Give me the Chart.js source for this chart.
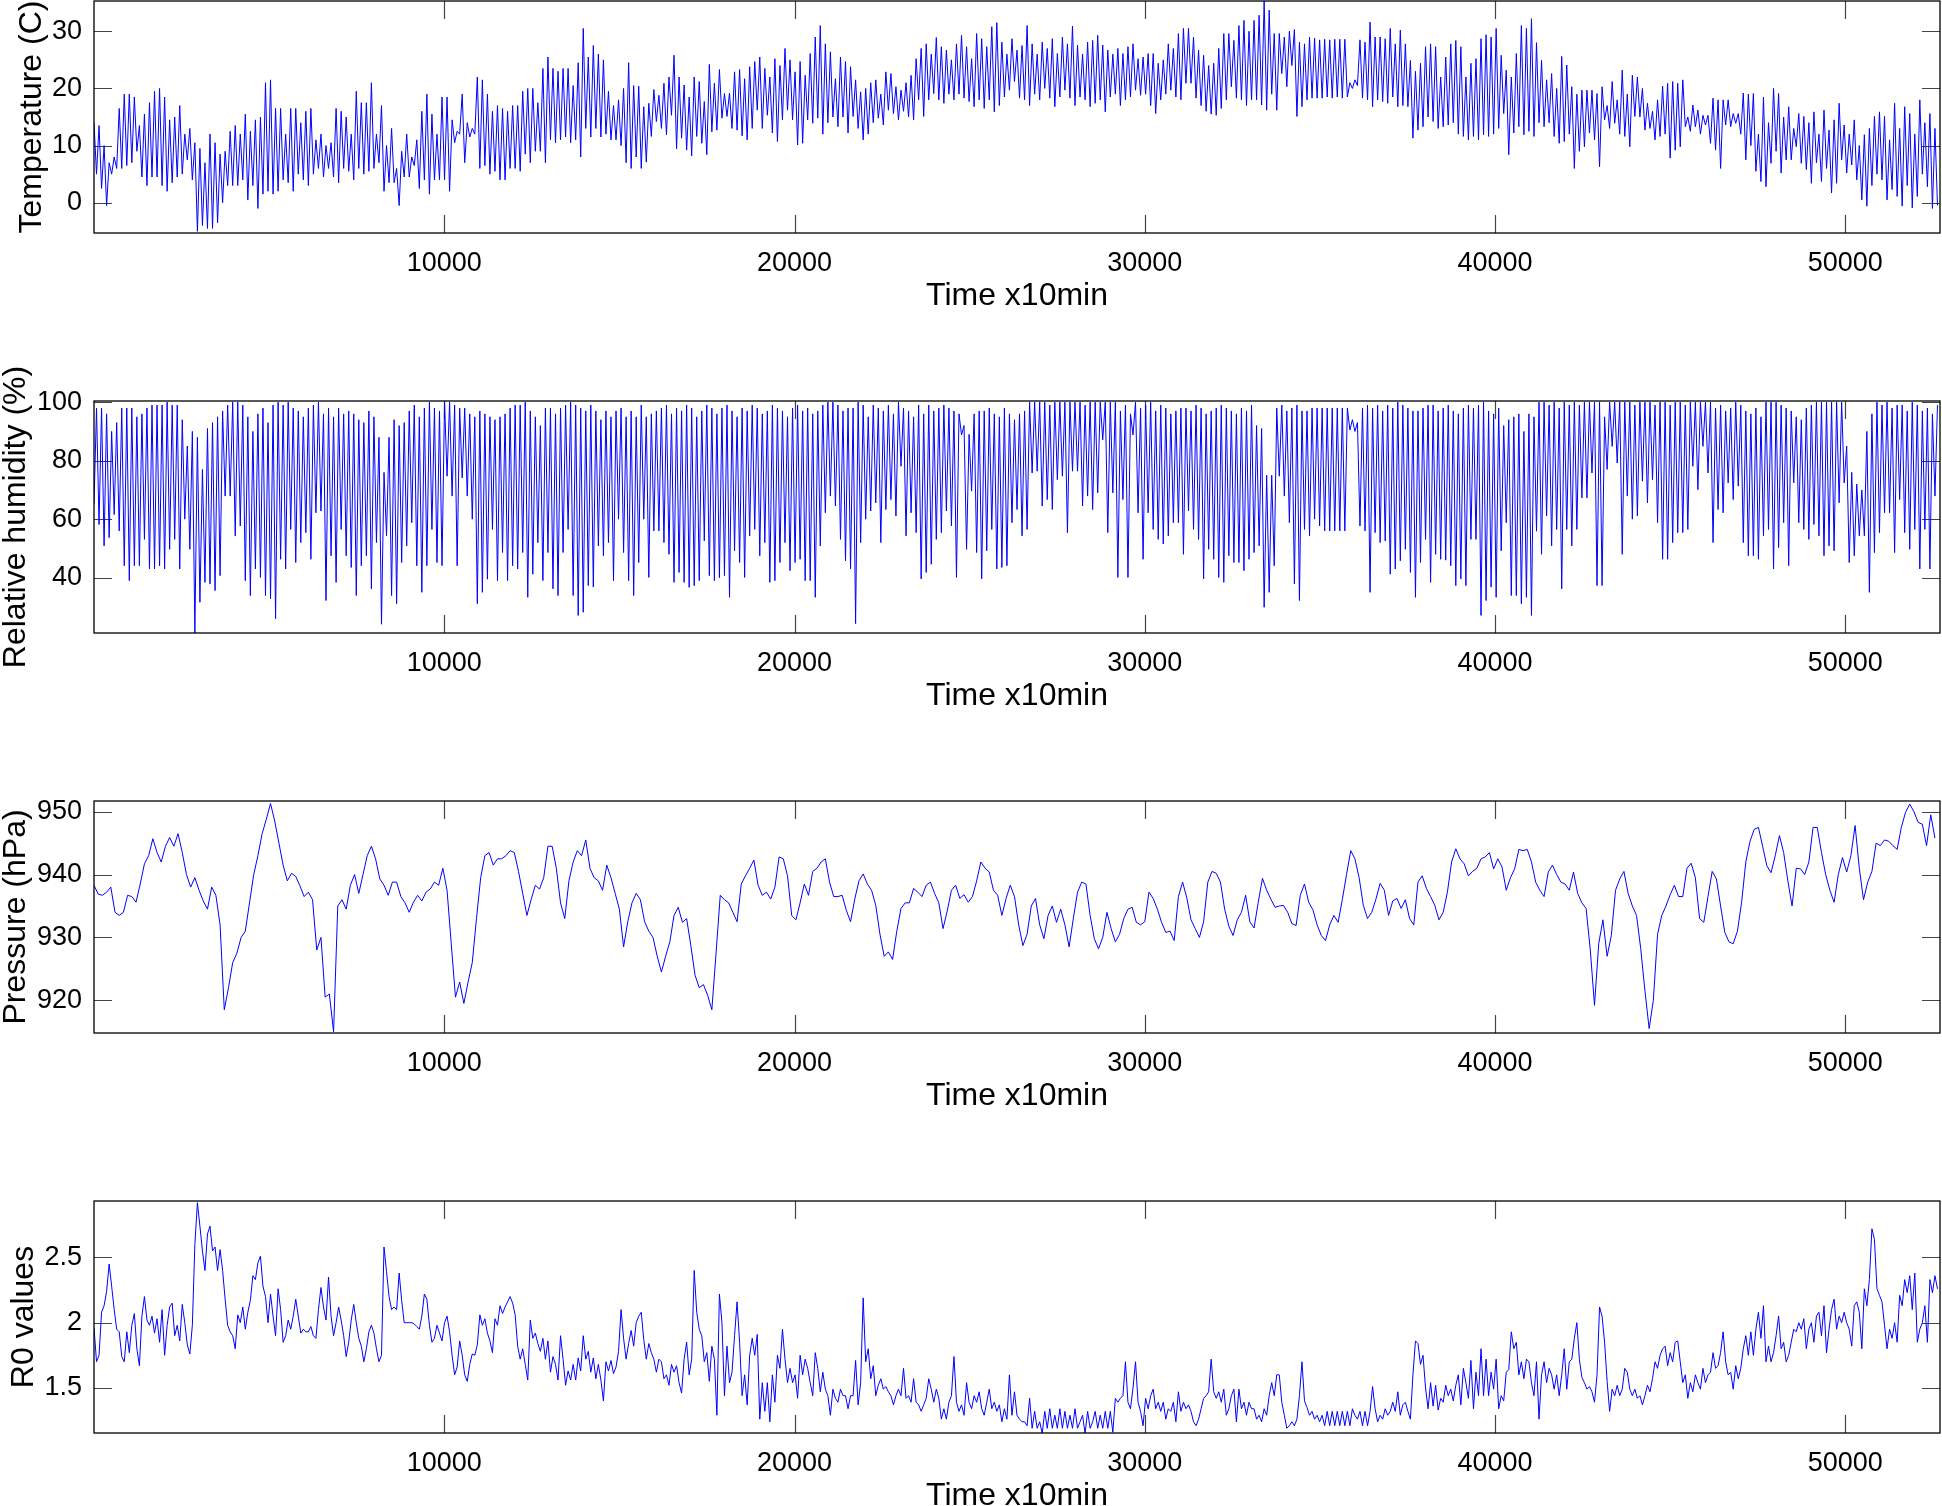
<!DOCTYPE html>
<html><head><meta charset="utf-8">
<script src="https://cdn.jsdelivr.net/npm/chart.js@4.4.0/dist/chart.umd.min.js"></script>
<style>
html,body{margin:0;padding:0;background:#fff;overflow:hidden;width:1942px;height:1506px;}
canvas{position:absolute;left:0;}
</style></head><body>
<canvas id="c0" width="1942" height="399" style="top:-39px"></canvas>
<canvas id="c1" width="1942" height="399" style="top:361px"></canvas>
<canvas id="c2" width="1942" height="399" style="top:761px"></canvas>
<canvas id="c3" width="1942" height="399" style="top:1161px"></canvas>
<script>
// ---- data (time axis in samples of 10 min) ----
const xTicks = [10000, 20000, 30000, 40000, 50000];
const xTitle = 'Time x10min';
const xMax = 52704;

const tempTicks = [0, 10, 20, 30];
const humTicks = [40, 60, 80, 100];
const presTicks = [920, 930, 940, 950];
const r0Ticks = [1.5, 2, 2.5];

// temperature, two readings per day (afternoon max, night min), step 72 samples
const temperature = [
14,5,13.5,2.5,10,-0.5,7,5,8,6,16.5,6,19,6.5,19,7,18.5,9,
13.5,4.5,15.5,3,17.5,4.5,19.5,4.5,20,3,18.5,2,14.5,3.5,15,4.5,17,5,12,7.5,13,4,
10.5,-5,9.5,-4,7,-4.5,12,-4.5,10.5,-3.5,8.5,0,9,3,
12.5,3,13.5,3,12,4,15.5,0.5,12.5,3,14.5,-1,15,1.5,21,2,21.5,1.5,16.5,2,
16.5,4,12,3.5,16.5,2,16.5,5,14,4,16,3,16.5,5,11,6,12,4.5,10,6,10.5,4.5,
16.5,3.5,16,6,15,5.5,12,4,19.5,6,17.5,5,17.5,5.5,21,6,12,7,17,2,10,3.5,13,3.5,6,-0.5,9,4.5,
12,4.5,8,6.5,11,2.5,16,4,19,1.5,15.5,4,12,4,18.5,4,18.5,2,
14.5,10.5,12.5,12,19,7,14,11.5,13,12,22,6,21.5,6.5,19,5,16,5.5,17,4,16.5,4,16,6,17,6,
17,5.5,19.5,8.5,20,7,20,9,17.5,9,23.5,7,25.5,11,23.5,10.5,23,11,23.5,11.5,23.5,10.5,20.5,11,24.5,8,30.5,13,
25.5,11.5,27.5,13,26,11.5,25,12,19.5,11,17,11,18,10,20,7,24.5,6,20.5,8,
20.4,6,16.8,7.1,17.4,11.6,19.8,14.2,18.8,13,20.9,11.9,22,15.3,25.8,9.4,22,11.3,20.6,9.2,18.5,8.2,22,11.6,21.2,10.4,17.7,8.4,24.2,12.4,20.9,12.7,23.3,14.8,19.1,15.1,19.2,13,22.9,12.7,23.3,11.7,21.7,11,23.8,13,24.7,16.2,25.5,13,
23.5,15.3,22,12.2,25.2,10.7,24,14.5,27,16.2,25,14.5,
22.9,10.1,24.7,10.4,22.3,14.5,26.1,13.9,29,14.8,31,12,27.8,14,26.4,15,
21.7,13.3,25.5,15,24.7,12.2,23.8,15.1,21.5,13,19.4,11,20,12,21,14,
21.5,14.8,19,13.6,22.9,16.2,22.6,15.6,20.3,14.5,19.7,16,21,15,22.3,14.5,
25.2,18,27,15.1,27.8,18,26,19.1,28.9,18,27.3,17.4,26.7,19,25,18,27.8,19,
29.3,18.3,27.3,17.7,25.2,16.8,29.6,18,28.7,16.5,27.3,18,30.8,15.9,31.5,17,
28.1,18.5,26,19.7,28.7,21.2,26.7,18.3,27.5,18,31,17,27.8,19,26,18,
28.1,20,27,18.3,28.7,16.8,26.1,18.5,29,19.7,27.8,18.3,30.9,17,27.6,18.5,26,18,
28.1,16.8,28.4,17.4,29.3,18,27.6,15.9,26.7,18.5,26,19,27,17,26.1,18,
27.3,18.5,27.8,19.7,25.2,18.8,25.5,19,26.1,17,26.1,15.6,24.4,18,25,19,
27.8,19.7,27,18.5,29.6,18,30.5,20.9,30.5,20.9,29,18.3,26.7,17,25.8,16,24,15.5,
24.4,15.3,27,16.5,29.6,18,29.6,20.3,28.4,18.3,31,18,31.9,17,30,18,
31.9,18,32.8,17.1,35.3,16.2,33.7,19,29.6,16.2,
29.6,22.6,29,20.3,30,24,30.3,15.1,28.1,16.8,27.8,18,29,18.3,28.8,18.3,
28.5,18.3,28.6,18.5,28.5,18.3,28.6,18.5,28.6,18.3,28.6,18.5,21,20,21.5,20.5,
28.5,18.3,28.1,18,31.6,16.8,29,18,29,17.7,28.7,17.4,30.5,18.5,27.8,16.8,30.2,17,27.8,16.8,
24.9,11.3,23,12.7,24.4,13.3,27.3,15,27.8,14.2,27.3,13,22,13.3,25.5,13.6,27.8,14,
28.4,12,27.3,11.6,22,11,24.4,11.6,25.2,11,28.7,11.9,29.4,11.6,29,12,30.5,13,
25.8,15.6,23.2,8.4,22,12.2,26.1,13.3,31,11.9,30.5,12.5,32.2,11.6,28,14,
24.9,13.3,21.5,14,22.6,11.6,20,10.4,25.6,10.7,24.1,12,20.3,6,19,9,
19.7,9.8,19.7,12.2,19.7,11,19.1,6.3,20.3,14.5,17,13,21.2,13.9,18,12,23.2,11.6,
19,9.8,22.3,15.1,22,15,20,12.7,17.4,13,16,11,18,11.6,20.4,12,
20.9,7.8,21.2,9.2,20.9,9.8,21.5,13.3,15,12.5,17.1,13.3,16.2,12,15.3,13.6,
15.3,10.4,18.3,9.2,18,6,18,13.6,18,13.3,15.6,13.9,15.6,12,19.2,7.5,19,10,
19.1,5.5,12,3.7,18.5,2.8,14,6.9,20,9,19.1,5.2,15,7.5,16.8,7.5,
13,9.8,15.6,6.9,15.1,5.8,14,3.4,15.9,7,12,3.7,16.2,6,12.7,1.7,
14.5,3.4,17.4,7.5,13.6,5.2,12,6.6,14.5,4,10,0.5,11.9,-0.6,13,3,15.1,5,
15.9,4,15.1,0.5,11,2.3,17.4,1.1,13,-0.6,16.8,3,15.6,-0.9,12,1.1,18,5,14,2.8,15.6,-1,13,-0.5
];

// relative humidity, two readings per day (afternoon min, night max), step 72 samples
const humidity = [
65,98,58.2,98,50.9,96,53.7,90,61.6,93,56,98,44.1,98,39,98,44.1,95,44.1,96,
53.1,98,43,99,43,99,44.1,99,43,100,49.7,99,53.1,99,43,94,60,85,49.7,90,
21.1,88,31.6,77,38.4,91,37.9,93,35.6,95,40.7,97,67.9,99,67.9,100,54.3,100,57.7,99,
39,95,33.9,90,43,96,40.1,98,33.9,93,32.8,99,26,100,46.3,99,43,100,56.5,98,
45.2,97,52,95,55.4,98,46.3,99,62.2,100,62.8,96,32.2,98,47.5,95,38.4,98,56.5,96,
47.5,97,43.5,96,33.9,94,44.1,93,47.5,97,36.2,95,52,88,24.1,76,54.3,88,33.9,94,
31.1,92,45.2,93,50.9,97,58.8,99,44.1,95,35,98,44.1,100,56.5,98,45.2,97,44.1,100,
74.7,100,67.9,99,44.1,98,74.1,98,67.9,96,60,95,31.1,97,35,96,39.5,95,56.5,94,
39,95,48.6,96,39,98,44.1,99,43,99,48.6,100,33.3,97,41.2,95,52,92,39,98,
48.6,98,36.2,96,33.9,98,48.6,99,56.5,100,33.9,99,27.1,98,28.2,97,37.3,99,36.8,97,
50.9,94,47.5,97,52,95,39,97,60,98,48.6,95,39,97,33.9,95,45.2,99,60,95,40.1,96,
56,97,56,98,52,99,48,96,38.4,98,41.8,97,38.4,99,36.7,98,37.3,95,39,97,
52.6,99,40.7,98,39,96,40,98,40.7,99,33.3,97,49.2,95,45.2,98,40.1,97,54.3,99,
56.5,98,47.5,96,52,97,38.4,99,39,98,45.2,97,52,95,42.4,98,45.2,99,46.3,97,
39,98,39,96,33.3,97,50.9,99,62.2,100,67.9,100,64.5,99,53.1,97,45.8,98,43,98,
24.3,100,52,99,60,95,62.8,99,65.6,98,52,97,63.3,99,66.7,96,61.1,100,78.1,98,
54.3,97,62.2,95,55.4,99,39.6,96,41.8,99,44.6,97,53.1,98,55.4,99,62.8,98,57.7,97,
40.1,96,88.8,92,49.7,89,69.6,96,48.6,97,39.6,97,49.2,98,56.5,96,43,95,43.5,98,
44.1,96,58.8,94,63.3,96,54.3,97,56.5,100,75.8,100,76.4,100,64.5,100,66.7,99,63.3,100,
73.5,100,74.7,100,55.4,100,76.4,100,76.4,100,64.5,99,67.9,100,63.3,100,69,100,87.1,100,
55.4,100,69,100,40.1,97,66.7,99,40.1,96,88.8,100,62.2,98,46.3,99,62.2,100,56.5,97,
53.1,99,51.5,98,54.3,96,58.8,97,58.8,98,48,98,62.8,97,56.5,99,53.1,98,39.6,96,
49.7,97,46.3,98,40.1,99,38.4,98,47.5,97,45.2,96,45.2,98,42.4,97,46.3,99,48.6,92,
50.9,91,29.9,75,35,75,44.1,98,74.7,99,67.9,97,58.8,98,
37.9,99,32.2,97,56.5,97,54.3,98,60,98,57.7,98,56,98,56,98,56,98,56,98,
56,98,90.5,94,90,93,57.7,98,56,99,35,98,55.4,99,52,97,52.6,99,41.2,98,
43,100,45.8,99,49.7,98,41.8,97,33.3,97,45.2,98,53.1,99,38.4,99,48,97,46.3,98,
46,99,44.1,97,37.3,96,39.6,98,37.3,99,53.1,98,53.1,99,27.1,100,32.2,97,36.8,96,
33.3,98,49.2,92,58.8,94,33.9,95,33.9,96,31.1,90,33.3,96,27.1,95,55.9,100,48,100,
61.1,99,50.9,100,56.5,98,36.2,100,56.5,99,50.9,100,56.5,99,67.3,100,67.3,100,75.8,100,
37.3,100,37.3,95,77,100,84.9,100,79.2,100,48,100,67.9,100,60,99,61.1,100,73,100,
65.6,100,73.5,99,58.8,100,46.3,100,46.3,99,52,100,55.4,100,55.4,99,56.5,100,78.1,100,
70.1,100,84.9,100,75.8,100,52,98,63.3,99,62.2,97,72.4,98,66.7,100,71.3,99,52,97,
47.5,96,47.5,98,46.3,95,54.3,100,56.5,100,43,100,50.3,99,58.8,98,44.1,97,72.4,95,
58.8,94,56.5,98,53.1,99,58.2,100,54.3,100,47.5,100,50.9,100,49.2,100,65.6,100,72.4,85,
45.2,76,47.5,72,54.3,70,54.3,90,35,96,48.6,100,55.4,99,62.2,100,62.2,98,48.6,99,
66.7,99,55.4,97,49.7,100,56.5,99,43,97,56.5,98,43,96,67.9,99
];

// pressure (hPa), step 120 samples
const pressure = [
938.3,936.9,936.7,937.2,938,934,933.5,934,936.7,936.5,
935.6,938.5,941.7,943,945.7,943.5,942,944.5,945.9,944.5,
946.5,943.5,940,938,939.5,937.5,935.8,934.5,938,936.7,
932,918.5,922,926,927.5,930,931,935.5,940,943,
946.5,948.8,951.3,948.5,945,941.5,939,940.2,939.7,938.2,
936.5,937.2,936,928,930,920.5,921,915,935,936,
934.5,938.3,940,937,940,943,944.5,942.5,939.3,938.3,
936.7,938.8,938.8,936.5,935.5,934,935.6,936.7,935.8,937.2,
937.7,938.8,938.3,941,937.5,929,920.5,922.9,919.5,922.9,
926,933,939.5,943,943.5,941.5,942.5,942.5,943,943.8,
943.5,940.5,937,933.5,936,938.3,937.7,939.5,944.5,944.5,
941,935.5,933,939,942,943.8,943,945.5,941,939.5,
939,937.5,941.5,939.5,937,934.5,928.5,932.5,935.5,937,
936,932.5,931,930,927,
924.5,927,929.3,933.5,934.8,932.4,933,928.7,924,922,
922.5,920.8,918.5,927.5,936.7,936,935.5,934,932.5,938.5,
939.8,941,942.3,938.3,936.7,937.2,936.1,938,942.8,942.5,
939.8,933.5,932.8,935.5,938.5,936.7,940.5,941,942,942.5,
938.8,936.5,936.5,936.7,934.3,932.5,936.1,939,940.1,938.5,
937.5,935.1,930.5,927,927.7,926.5,931,934.6,935.5,935.5,
937.8,937.2,936.5,938.3,938.8,937,935.5,931.4,934.2,937.5,
938.3,936.2,936.8,935.6,936.5,939,942,941,940.4,937.5,
936.7,933.5,936.2,938.3,936.5,932,928.7,930.5,935,936.2,
932,929.8,933.5,935,932.4,934.5,932,928.5,933,937.2,
938.8,938.5,933.5,929.8,928.2,930,934,931.4,929.3,930.5,
933,934.5,934.8,932.4,932,932.5,937.2,936.2,934.5,932.4,
930.8,931,929.5,936.5,938.8,936.3,932.8,931.4,930,932.5,
938.8,940.5,940.2,938.8,934.5,931.8,930.3,932.8,934,936.7,
932.5,931.5,935.6,939.4,937.5,936.1,934.8,935,935.1,934,
932.2,931.9,
936.7,938.5,935.6,934.4,932,930.3,929.5,932,933.5,932.4,
936,940,943.8,942.5,939.5,935.1,933,934,936.1,938.6,
937.5,933.5,935.8,936.2,934.6,936,933,932,938.8,939.8,
937.8,936.5,935.1,932.8,934,937.2,942,944.1,942.5,941.7,
939.8,940.5,941,942.5,942.8,943.5,940.9,942.5,941.2,937.5,
939.5,940.9,944,943.8,944,942,938.8,937.5,936.5,940.4,
941.5,940,938.8,938.5,937.5,940.4,937,935.5,934.6,928,
919.2,929,932.8,927,930.3,937.5,939.3,940.5,937,935,
933.5,928.2,921.5,915.5,920,930.5,933.5,935,936.8,938.3,
936.5,936.5,941,941.8,939.5,933,932.4,936.5,940.5,939.3,
935,930.8,929.3,929,931,935.6,942,945.3,947.2,947.5,
944.5,941.4,940.3,943,946.2,943.5,939,935,941,940.9,
940,942,947.5,947.5,943.5,940,937.5,935.6,940,942.7,
940.4,943,947.8,941,936,938.8,940.5,945,944.6,945.5,
945.3,944.6,944,947.5,949.9,951.2,950,948.3,948,944.6,
949.5,945.8
];

// R0 values, step 72 samples
const r0 = [
1.96,1.70,1.75,2.08,2.13,2.24,2.45,2.28,2.10,1.95,
1.93,1.74,1.70,1.93,1.77,1.98,2.07,1.80,1.67,2.05,
2.20,2.02,1.98,2.05,1.92,2.03,1.85,2.10,1.75,1.98,
2.12,2.15,1.90,1.98,1.86,2.14,2.0,1.83,1.76,1.98,
2.60,2.92,2.74,2.55,2.40,2.68,2.74,2.55,2.58,2.40,
2.56,2.40,2.18,1.98,1.93,1.90,1.80,2.06,2.0,2.12,
1.95,2.08,2.17,2.36,2.33,2.46,2.51,2.28,2.20,2.0,
2.22,2.05,1.90,2.26,2.10,1.85,1.90,2.02,1.95,2.05,
2.18,2.05,1.92,1.95,1.93,1.93,1.97,1.90,1.88,2.10,
2.27,2.12,2.02,2.35,2.05,1.90,2.0,2.12,2.02,1.90,
1.74,1.85,2.02,2.14,2.0,1.88,1.82,1.70,1.80,1.93,
1.98,1.92,1.80,1.70,1.75,2.58,2.39,2.20,2.10,2.12,
2.10,2.38,2.17,2.0,2.0,2.0,2.0,1.99,1.97,1.95,
2.05,2.22,2.18,1.98,1.85,1.88,1.98,1.92,1.86,2.0,
2.05,1.93,1.75,1.60,1.66,1.86,1.75,1.60,1.55,1.68,
1.76,1.75,1.83,2.06,1.98,2.03,1.92,1.86,1.77,2.03,
1.98,2.13,2.07,2.12,2.16,2.20,2.15,2.06,1.82,1.72,
1.80,1.68,1.56,2.02,1.88,1.92,1.84,1.78,1.88,1.72,
1.86,1.62,1.74,1.68,1.56,1.90,1.72,1.52,1.63,1.56,
1.68,1.56,1.73,1.63,1.90,1.72,1.78,1.62,1.73,1.57,
1.68,1.56,1.40,1.70,1.63,1.71,1.61,1.66,1.78,2.10,
1.88,1.72,1.84,1.94,1.82,2.0,2.05,2.08,1.87,1.72,
1.84,1.77,1.72,1.62,
1.72,1.70,1.57,1.60,1.52,1.68,1.62,1.67,1.54,1.46,
1.72,1.85,1.60,1.72,2.40,2.08,1.95,1.90,1.70,1.77,
1.55,1.82,1.72,1.29,2.22,2.0,1.44,1.82,1.54,1.62,
1.90,2.16,1.85,1.44,1.60,1.37,1.75,1.88,1.75,1.91,
1.26,1.54,1.32,1.54,1.24,1.60,1.39,1.75,1.65,1.95,
1.72,1.54,1.65,1.54,1.60,1.42,1.75,1.60,1.72,1.65,
1.54,1.44,1.77,1.65,1.47,1.62,1.49,1.44,1.29,1.49,
1.42,1.39,1.49,1.44,1.44,1.34,1.44,1.44,1.71,1.37,
1.54,2.19,1.70,1.80,1.57,1.67,1.44,1.52,1.57,1.49,
1.51,1.47,1.44,1.37,1.44,1.49,1.44,1.65,1.42,1.44,
1.39,1.57,1.39,1.37,1.32,1.37,1.42,1.57,1.49,1.39,
1.49,1.42,1.26,1.34,1.26,1.39,1.44,1.74,1.39,1.32,
1.37,1.29,1.54,1.39,1.34,1.44,1.39,1.47,1.34,1.29,
1.39,1.49,1.34,1.39,1.32,1.37,1.24,1.34,1.26,1.60,
1.29,1.47,1.29,1.26,1.24,1.24,1.21,1.42,1.19,1.32,
1.19,1.24,1.15,1.32,1.19,1.34,1.19,1.29,1.19,1.34,
1.19,1.32,1.19,1.29,1.19,1.34,1.19,1.24,1.29,1.15,
1.32,1.19,1.24,1.32,1.19,1.29,1.19,1.32,1.19,1.32,
1.16,1.42,1.39,1.42,1.44,1.70,1.39,1.34,1.50,1.70,
1.39,1.32,1.21,1.42,1.34,1.44,1.49,1.34,1.39,1.32,
1.39,1.26,1.34,1.32,1.39,1.24,1.47,1.32,1.39,1.34,
1.37,1.32,1.24,1.21,1.26,1.34,1.42,1.44,1.47,1.72,
1.47,1.42,1.47,1.39,1.49,1.29,1.34,1.44,1.49,1.24,
1.49,1.34,1.39,1.29,1.39,1.34,1.34,1.26,1.29,1.24,
1.34,1.29,1.44,1.54,1.44,1.60,1.60,1.39,1.29,1.19,
1.21,1.24,1.21,1.26,
1.44,1.70,1.40,1.35,1.29,1.32,1.26,1.29,1.24,1.29,
1.21,1.32,1.21,1.32,1.21,1.32,1.21,1.32,1.21,1.32,
1.21,1.34,1.29,1.26,1.32,1.21,1.32,1.21,1.32,1.51,
1.34,1.24,1.29,1.26,1.34,1.29,1.32,1.39,1.32,1.47,
1.29,1.37,1.39,1.32,1.26,1.60,1.86,1.84,1.68,1.75,
1.50,1.34,1.54,1.36,1.52,1.33,1.42,1.39,1.52,1.44,
1.49,1.40,1.52,1.60,1.37,1.65,1.54,1.42,1.71,1.34,
1.62,1.44,1.80,1.44,1.72,1.44,1.62,1.49,1.72,1.34,
1.44,1.40,1.62,1.64,1.93,1.80,1.85,1.60,1.70,1.57,
1.72,1.70,1.54,1.44,1.70,1.26,1.60,1.70,1.54,1.65,
1.60,1.49,1.60,1.44,1.60,1.80,1.49,1.70,1.72,1.88,
2.0,1.72,1.58,1.54,1.49,1.51,1.47,1.39,1.60,2.12,
2.05,1.85,1.55,1.32,1.49,1.44,1.52,1.44,1.49,1.65,
1.62,1.49,1.44,1.49,1.42,1.44,1.37,1.44,1.52,1.47,
1.57,1.70,1.65,1.75,1.80,1.82,1.67,1.77,1.70,1.85,
1.86,1.70,1.54,1.60,1.42,1.54,1.47,1.60,1.54,1.49,
1.65,1.54,1.60,1.62,1.77,1.65,1.67,1.77,1.93,1.70,
1.60,1.62,1.49,1.67,1.57,1.65,1.80,1.90,1.75,1.93,
1.75,1.95,2.08,1.88,2.13,1.70,1.82,1.70,1.77,1.90,
2.05,1.80,1.85,1.70,1.75,1.85,1.95,1.93,2.0,1.95,
2.03,1.80,1.95,2.0,1.85,2.05,2.08,1.90,2.13,1.77,
1.95,2.10,2.18,1.95,2.05,2.0,2.08,2.0,1.95,1.82,
2.13,2.16,2.08,1.80,2.26,2.13,2.33,2.72,2.64,2.26,
2.21,2.16,1.98,1.80,1.95,1.88,2.0,1.85,2.21,2.13,
2.33,2.23,2.36,2.10,2.38,1.85,1.95,2.0,2.13,1.85,
2.33,2.23,2.36,2.26
];

// ---- drawing ----
const FONT = '"Liberation Sans", Arial, Helvetica, sans-serif';
const TICK_LEN = 18;

const frameTicks = {
  id: 'frameTicks',
  beforeDatasetsDraw(chart) {
    const {ctx, chartArea: a, scales} = chart;
    ctx.save();
    ctx.strokeStyle = '#444';
    ctx.lineWidth = 1.2;
    ctx.beginPath();
    scales.x.ticks.forEach(t => {
      const p = Math.round(scales.x.getPixelForValue(t.value)) + 0.5;
      ctx.moveTo(p, a.bottom); ctx.lineTo(p, a.bottom - TICK_LEN);
      ctx.moveTo(p, a.top); ctx.lineTo(p, a.top + TICK_LEN);
    });
    scales.y.ticks.forEach(t => {
      const p = Math.round(scales.y.getPixelForValue(t.value)) + 0.5;
      ctx.moveTo(a.left, p); ctx.lineTo(a.left + TICK_LEN, p);
      ctx.moveTo(a.right, p); ctx.lineTo(a.right - TICK_LEN, p);
    });
    ctx.stroke();
    ctx.restore();
  },
  afterDatasetsDraw(chart) {
    const {ctx, chartArea: a} = chart;
    ctx.save();
    ctx.strokeStyle = '#000';
    ctx.lineWidth = 1.3;
    ctx.strokeRect(a.left, a.top, a.right - a.left, a.bottom - a.top);
    ctx.restore();
  }
};

function makePanel(id, vals, step, ymin, ymax, yticks, ytitle, titlePad) {
  const pts = vals.map((v, i) => ({x: i * step, y: v}));
  return new Chart(document.getElementById(id), {
    type: 'line',
    data: {datasets: [{data: pts, borderColor: '#0000ff', borderWidth: 1, pointRadius: 0, fill: false, tension: 0}]},
    options: {
      responsive: false, animation: false, devicePixelRatio: 1, parsing: false, normalized: true,
      events: [],
      layout: {padding: {top: 40, right: 2, left: 0, bottom: 0}},
      plugins: {legend: {display: false}, tooltip: {enabled: false}},
      scales: {
        x: {
          type: 'linear', min: 0, max: xMax,
          grid: {display: false, drawTicks: false}, border: {display: false},
          afterBuildTicks: s => { s.ticks = xTicks.map(v => ({value: v})); },
          afterFit: s => { s.height = 127; },
          ticks: {font: {family: FONT, size: 27}, color: '#000', padding: 14, maxRotation: 0, autoSkip: false,
                  callback: v => String(v)},
          title: {display: true, text: xTitle, font: {family: FONT, size: 32}, color: '#000',
                  padding: {top: 0, bottom: 45}}
        },
        y: {
          type: 'linear', min: ymin, max: ymax,
          grid: {display: false, drawTicks: false}, border: {display: false},
          afterBuildTicks: s => { s.ticks = yticks.map(v => ({value: v})); },
          afterFit: s => { s.width = 94; },
          ticks: {font: {family: FONT, size: 27}, color: '#000', padding: 12, autoSkip: false,
                  callback: v => String(v)},
          title: {display: true, text: ytitle, font: {family: FONT, size: 32, lineHeight: 1.0}, color: '#000',
                  padding: {top: titlePad, bottom: 0}}
        }
      }
    },
    plugins: [frameTicks]
  });
}

makePanel('c0', temperature, 72, -5.3, 35.3, tempTicks, 'Temperature (C)', 16);
makePanel('c1', humidity, 72, 21.1, 100.4, humTicks, 'Relative humidity (%)', 0);
makePanel('c2', pressure, 120, 914.8, 951.7, presTicks, 'Pressure (hPa)', 0);
makePanel('c3', r0, 72, 1.154, 2.933, r0Ticks, 'R0 values', 8);
</script>
</body></html>
